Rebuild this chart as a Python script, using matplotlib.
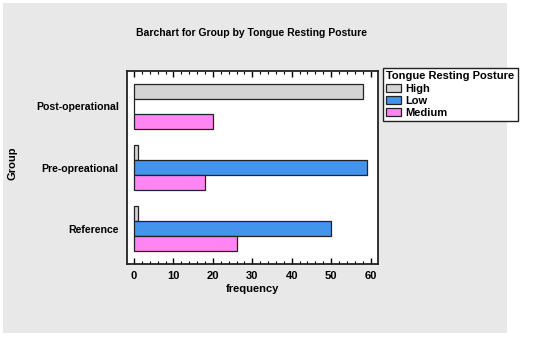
import matplotlib.pyplot as plt
import numpy as np
from matplotlib.patches import Rectangle
from matplotlib.ticker import MultipleLocator

plt.rcParams['font.family'] = ['Liberation Sans', 'DejaVu Sans']

# data
groups = ["Reference", "Pre-opreational", "Post-operational"]
levels = ["High", "Low", "Medium"]
high = [1, 1, 58]
low = [50, 59, 0]
medium = [26, 18, 20]
colors = ["#d4d4d4", "#4294ec", "#ff85f2"]

fig = plt.figure(figsize=(5.5, 3.38), dpi=100)
fig.patch.set_facecolor("white")
# grey panel behind everything
fig.patches.append(Rectangle((3/550, 5/338), 504/550, 330/338, transform=fig.transFigure,
                             facecolor="#e8e8e8", edgecolor="none", zorder=-10))

ax = fig.add_axes([127/550, 1 - 264/338, 251/550, 193/338])
ax.set_facecolor("white")

y = np.arange(len(groups))
h = 0.25
ax.barh(y + h, high, height=h, color=colors[0], edgecolor="#222222", linewidth=0.9, label=levels[0])
ax.barh(y, low, height=h, color=colors[1], edgecolor="#222222", linewidth=0.9, label=levels[1])
ax.barh(y - h, medium, height=h, color=colors[2], edgecolor="#222222", linewidth=0.9, label=levels[2])

ax.set_xlim(-1.8, 61.9)
ax.set_ylim(-0.58, 2.58)
ax.set_yticks(y)
ax.set_yticklabels(groups, fontsize=7.6, fontweight="bold")
ax.tick_params(axis="y", length=0, pad=6)
ax.xaxis.set_major_locator(MultipleLocator(10))
ax.xaxis.set_minor_locator(MultipleLocator(2))
ax.tick_params(axis="x", which="major", direction="in", top=True, length=4, width=1,
               labelsize=8, pad=5)
ax.tick_params(axis="x", which="minor", direction="in", top=True, length=2, width=0.8)
for lbl in ax.get_xticklabels():
    lbl.set_fontweight("bold")
for s in ax.spines.values():
    s.set_linewidth(1.3)
    s.set_color("#222222")

ax.set_xlabel("frequency", fontsize=8, fontweight="bold", labelpad=2)
fig.text(13/550, 1 - 163/338, "Group", rotation=90, fontsize=8, fontweight="bold",
         ha="center", va="center")
fig.text(252/550, 1 - 33/338, "Barchart for Group by Tongue Resting Posture",
         fontsize=7.5, fontweight="bold", ha="center", va="center")

leg = fig.legend(loc="upper left", bbox_to_anchor=(383/550, 1 - 68/338), title="Tongue Resting Posture",
                 fontsize=8, title_fontproperties={"weight": "bold", "size": 8},
                 frameon=True, fancybox=False, edgecolor="#222222", framealpha=1,
                 handlelength=1.35, handleheight=0.75, handletextpad=0.35, labelspacing=0.2,
                 borderpad=0.3, borderaxespad=0, alignment="left")
for t in leg.get_texts():
    t.set_fontweight("bold")
leg.get_frame().set_linewidth(1.0)

fig.savefig("out.png", dpi=100, facecolor=fig.get_facecolor())
